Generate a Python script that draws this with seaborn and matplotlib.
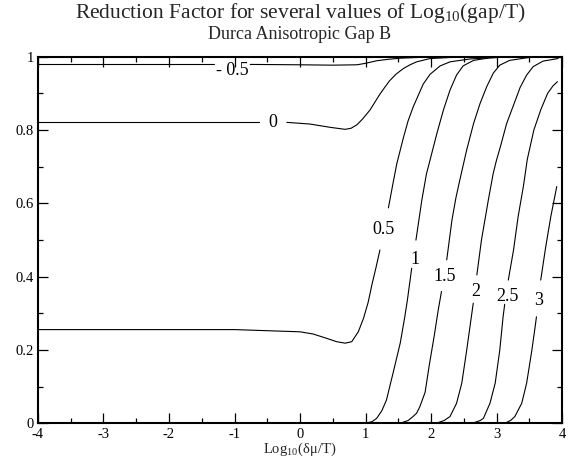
import numpy as np
import pandas as pd
import seaborn as sns
import matplotlib
matplotlib.use('Agg')
import matplotlib.pyplot as plt
from matplotlib.ticker import MultipleLocator, FormatStrFormatter

nan = np.nan

# curves for log10(gap/T); nan marks the gap left for the in-line label
m05_x = [-4, -1.32, nan, -0.76, 0, 0.5, 0.87, 1.0, 1.17, 1.35, 1.53, 1.8, 2.2, 2.8, 3.94]
m05_y = [0.979, 0.979, nan, 0.979, 0.978, 0.977, 0.978, 0.982, 0.989, 0.993, 0.996, 0.998, 0.999, 1.0, 1.0]

c0_x = [-4, -0.63, nan, -0.20, 0.15, 0.46, 0.69, 0.78, 0.865, 0.95, 1.07, 1.15, 1.22, 1.30,
        1.37, 1.47, 1.58, 1.68, 1.78, 1.985, 2.4, 3.0, 3.94]
c0_y = [0.821, 0.821, nan, 0.821, 0.8165, 0.8075, 0.802, 0.805, 0.814, 0.829, 0.855, 0.878, 0.898, 0.918,
        0.935, 0.953, 0.968, 0.978, 0.986, 0.995, 0.999, 1.0, 1.0]

c05_x = [-4, -1, 0.0, 0.20, 0.41, 0.56, 0.69, 0.79, 0.89, 0.97, 1.04, 1.10, 1.16, 1.22, nan,
         1.35, 1.42, 1.48, 1.58, 1.65, 1.73, 1.88, 1.985, 2.14, 2.29, 2.6, 3.0, 3.5, 3.94]
c05_y = [0.256, 0.256, 0.25, 0.244, 0.232, 0.223, 0.219, 0.223, 0.25, 0.287, 0.33, 0.38, 0.425, 0.473, nan,
         0.588, 0.655, 0.71, 0.78, 0.825, 0.864, 0.925, 0.952, 0.975, 0.986, 0.994, 0.998, 1.0, 1.0]

c1_x = [-4, 0.9, 1.0, 1.1, 1.17, 1.25, 1.32, 1.42, 1.53, 1.60, 1.64, 1.705, nan,
        1.77, 1.86, 1.93, 1.985, 2.09, 2.19, 2.29, 2.39, 2.49, 2.65, 2.9, 3.3, 3.94]
c1_y = [0, 0, 0.001, 0.005, 0.014, 0.035, 0.064, 0.137, 0.219, 0.291, 0.337, 0.423, nan,
        0.50, 0.609, 0.68, 0.718, 0.791, 0.855, 0.909, 0.95, 0.975, 0.99, 0.997, 1.0, 1.0]

c15_x = [-4, 1.45, 1.55, 1.65, 1.72, 1.78, 1.83, 1.91, 1.97, 2.05, 2.11, 2.16, nan,
         2.24, 2.32, 2.38, 2.44, 2.545, 2.65, 2.75, 2.85, 2.95, 3.05, 3.2, 3.5, 3.94]
c15_y = [0, 0, 0.002, 0.008, 0.018, 0.028, 0.046, 0.085, 0.155, 0.24, 0.309, 0.36, nan,
         0.446, 0.555, 0.615, 0.664, 0.746, 0.818, 0.873, 0.918, 0.955, 0.977, 0.99, 0.998, 1.0]

c2_x = [-4, 2.0, 2.1, 2.2, 2.29, 2.39, 2.47, 2.545, 2.595, 2.645, nan,
        2.70, 2.77, 2.875, 2.95, 3.0, 3.06, 3.155, 3.26, 3.36, 3.46, 3.56, 3.71, 3.94]
c2_y = [0, 0, 0.002, 0.008, 0.019, 0.055, 0.11, 0.2, 0.264, 0.328, nan,
        0.405, 0.50, 0.609, 0.682, 0.718, 0.755, 0.818, 0.868, 0.916, 0.95, 0.973, 0.988, 0.995]

c25_x = [-4, 2.55, 2.67, 2.75, 2.80, 2.90, 2.98, 3.05, 3.10, 3.125, nan,
         3.18, 3.26, 3.33, 3.41, 3.47, 3.57, 3.675, 3.78, 3.86, 3.93]
c25_y = [0, 0, 0.003, 0.008, 0.014, 0.055, 0.11, 0.2, 0.29, 0.325, nan,
         0.391, 0.473, 0.564, 0.646, 0.72, 0.80, 0.855, 0.90, 0.92, 0.932]

c3_x = [-4, 3.05, 3.155, 3.22, 3.28, 3.385, 3.46, 3.54, 3.59, 3.61, nan,
        3.675, 3.75, 3.83, 3.92]
c3_y = [0, 0, 0.003, 0.009, 0.019, 0.055, 0.11, 0.2, 0.264, 0.291, nan,
        0.391, 0.48, 0.565, 0.646]

labels = ["- 0.5", "0", "0.5", "1", "1.5", "2", "2.5", "3"]
label_x = [-1.04, -0.42, 1.27, 1.76, 2.21, 2.69, 3.16, 3.65]
label_y = [0.963, 0.821, 0.53, 0.446, 0.40, 0.361, 0.345, 0.334]

curves = [(m05_x, m05_y), (c0_x, c0_y), (c05_x, c05_y), (c1_x, c1_y),
          (c15_x, c15_y), (c2_x, c2_y), (c25_x, c25_y), (c3_x, c3_y)]

rows = []
for name, (xs, ys) in zip(labels, curves):
    seg = 0
    for x, y in zip(xs, ys):
        if np.isnan(x):
            seg += 1
            continue
        rows.append((name, f"{name}_{seg}", x, y))
df = pd.DataFrame(rows, columns=['curve', 'seg', 'x', 'y'])

sns.set_theme(style='ticks')
plt.rcParams['font.family'] = ['Liberation Serif', 'DejaVu Serif']
plt.rcParams['mathtext.fontset'] = 'custom'
plt.rcParams['mathtext.rm'] = 'Liberation Serif'
plt.rcParams['axes.unicode_minus'] = False

fig = plt.figure(figsize=(5.74, 4.68), dpi=100)
ax = fig.add_axes([0.0662, 0.0951, 0.9129, 0.7837])

sns.lineplot(data=df, x='x', y='y', units='seg', estimator=None, sort=False,
             color='black', lw=0.8, ax=ax)

for lbl, lx, ly in zip(labels, label_x, label_y):
    ax.text(lx, ly, lbl, ha='center', va='center', fontsize=13, color='black')

ax.set_xlim(-4, 4)
ax.set_ylim(0, 1)
ax.xaxis.set_major_locator(MultipleLocator(1))
ax.xaxis.set_minor_locator(MultipleLocator(0.5))
ax.yaxis.set_major_locator(MultipleLocator(0.2))
ax.yaxis.set_minor_locator(MultipleLocator(0.1))
ax.xaxis.set_major_formatter(FormatStrFormatter('%g'))
ax.yaxis.set_major_formatter(FormatStrFormatter('%g'))
ax.tick_params(which='both', direction='in', top=True, right=True, colors='black',
               labelsize=10.5, width=0.9)
ax.tick_params(which='major', length=7, pad=3)
ax.tick_params(which='minor', length=3.5)
for sp in ax.spines.values():
    sp.set_linewidth(1.5)
    sp.set_color('black')

ax.set_xlabel('Log$_{10}$(δμ/T)', fontsize=10.5, labelpad=0)
ax.set_ylabel('')

cx = 0.0662 + 0.9129 / 2
fig.text(cx, 0.9605, 'Reduction Factor for several values of Log$_{10}$(gap/T)',
         ha='center', va='baseline', fontsize=15.5)
fig.text(cx, 0.9156, 'Durca Anisotropic Gap B', ha='center', va='baseline', fontsize=13)

fig.savefig('out.png', dpi=100)
